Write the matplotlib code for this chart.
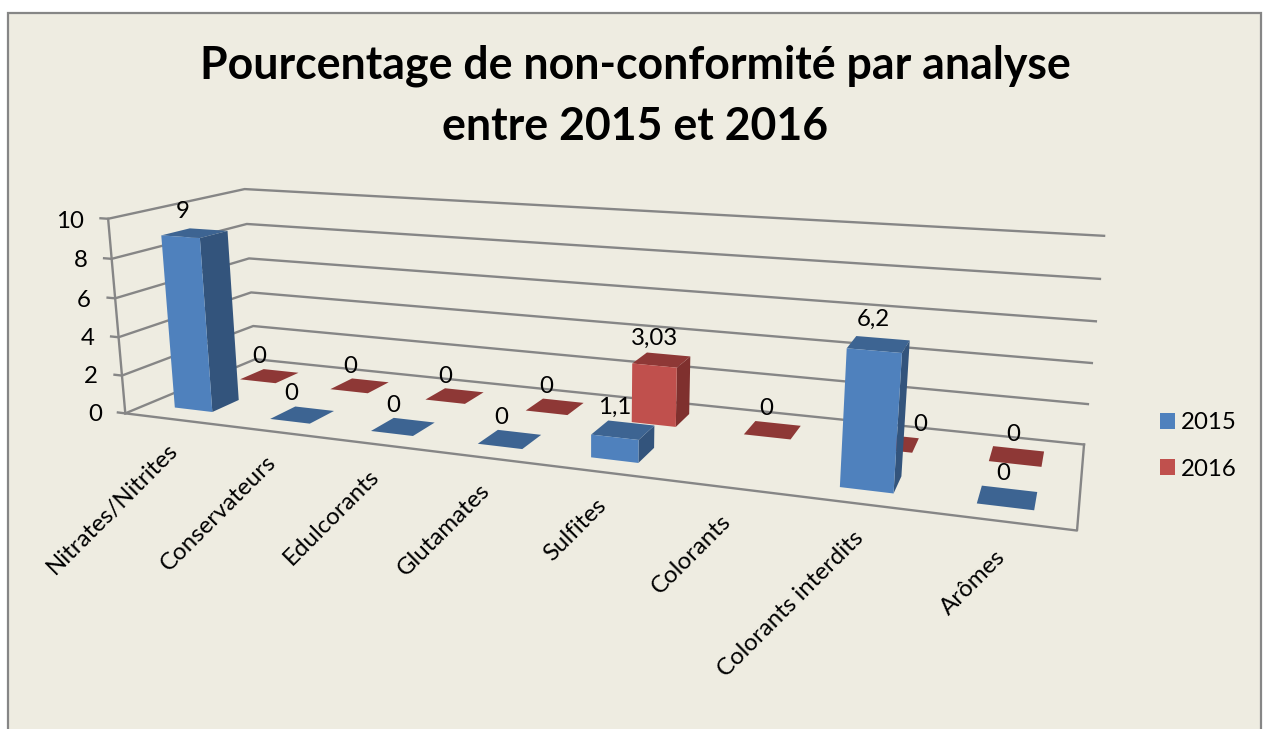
import numpy as np
import matplotlib
matplotlib.use("Agg")
import matplotlib.pyplot as plt
from matplotlib.axes import Axes
from matplotlib.patches import Rectangle, Patch

categories = ["Nitrates/Nitrites", "Conservateurs", "Edulcorants", "Glutamates",
              "Sulfites", "Colorants", "Colorants interdits", "Arômes"]
values_2015 = [9, 0, 0, 0, 1.1, None, 6.2, 0]
values_2016 = [0, 0, 0, 0, 3.03, 0, 0, 0]
labels_2015 = ["9", "0", "0", "0", "1,1", None, "6,2", "0"]
labels_2016 = ["0", "0", "0", "0", "3,03", "0", "0", "0"]
value_ticks = [0, 2, 4, 6, 8, 10]
title = "Pourcentage de non-conformité par analyse\nentre 2015 et 2016"

W, H = 1267, 729
FS = 17.3
plt.rcParams['font.family'] = ['Lato', 'DejaVu Sans']
GRID = "#868686"
BG = "#EEECE1"
BLUE = dict(front="#4F81BD", side="#33547C", top="#3D6492")
RED = dict(front="#C0504D", side="#7F302E", top="#8E3836")

fig = plt.figure(figsize=(W / 100, H / 100), dpi=100, facecolor="white")
fig.add_artist(Rectangle((8 / W, -0.05), (1261 - 8) / W, (H - 13) / H + 0.05,
                         transform=fig.transFigure, facecolor=BG, edgecolor=GRID,
                         linewidth=1.6, zorder=-5))

ax = fig.add_axes([0, 0, 1, 1], projection="3d", computed_zorder=False, proj_type="ortho")
ax.apply_aspect = lambda position=None: None
ax.patch.set_visible(False)
ax.set_axis_off()
ax.set_xlim(0, 8); ax.set_ylim(0, 2); ax.set_zlim(0, 10)

# Camera calibration: chart box corners -> picture position, solved as a projective camera
calib = [((0, 0, 0), (126, 413)), ((8, 0, 0), (1077, 531)), ((0, 2, 0), (255, 360)),
         ((8, 2, 0), (1084, 444)), ((0, 0, 10), (108, 219)), ((0, 2, 10), (245, 189)),
         ((8, 2, 10), (1104, 236)), ((8, 2, 4), (1092, 363)), ((0, 2, 4), (251, 292)),
         ((0, 0, 4), (118, 337))]
A, b = [], []
for (X, Y, Z), (u, v) in calib:
    A.append([X, Y, Z, 1, 0, 0, 0, 0, -u * X, -u * Y, -u * Z]); b.append(u)
    A.append([0, 0, 0, 0, X, Y, Z, 1, -v * X, -v * Y, -v * Z]); b.append(v)
p = np.linalg.lstsq(np.array(A, float), np.array(b, float), rcond=None)[0]
rows = np.array([p[:4], p[4:8], [0, 1, 0, 0], [p[8], p[9], p[10], 1.0]])
vx0, vx1 = ax.viewLim.intervalx
vy0, vy1 = ax.viewLim.intervaly
sx = (vx1 - vx0) / W
sy = (vy1 - vy0) / H
to_view = np.array([[sx, 0, 0, vx0], [0, -sy, 0, vy1], [0, 0, 1, 0], [0, 0, 0, 1]], float)
M = to_view @ rows
ax.get_proj = lambda: M


def label(x, y, z, s, **kw):
    """Text anchored at a point of the 3D chart, drawn flat so that rotation holds."""
    q = M @ np.array([x, y, z, 1.0])
    return Axes.text(ax, q[0] / q[3], q[1] / q[3], s, color="black", fontsize=FS, **kw)


# Walls and floor
LW = 1.7
for z in value_ticks:
    ax.plot([-0.08, 0, 0, 8], [0, 0, 2, 2], [z, z, z, z], color=GRID, lw=LW, zorder=1)
ax.plot([0, 0], [0, 0], [0, 10], color=GRID, lw=LW, zorder=1)
ax.plot([0, 8, 8], [0, 0, 2], [0, 0, 0], color=GRID, lw=LW, zorder=1)
for z in value_ticks:
    label(-0.26, 0, z - 0.2, str(z), ha="right", va="center")

# Bars
BAR = 0.4


def bars(values, y_center, style, base_z):
    for i, v in enumerate(values):
        if v is None:
            continue
        ax.bar3d(i + 0.5 - BAR / 2, y_center - BAR / 2, 0, BAR, BAR, v, shade=False,
                 color=["none", style["top"], style["front"], "none", "none", style["side"]],
                 edgecolor="none", zorder=base_z + i * 0.01)


def bar_labels(texts, values, y_center, nudge=None):
    nudge = nudge or {}
    for i, (t, v) in enumerate(zip(texts, values)):
        if t is not None:
            label(i + 0.5 - 0.11 + 0.01 * i + nudge.get(i, 0), y_center, v + 1.05, t,
                  ha="center", va="center", zorder=20)


bars(values_2016, 1.5, RED, 5)
bars(values_2015, 0.5, BLUE, 10)
bar_labels(labels_2016, values_2016, 1.5, nudge={6: 0.28})
bar_labels(labels_2015, values_2015, 0.5)

for i, name in enumerate(categories):
    label(i + 0.5 - 0.07 + 0.005 * i, 0, -1.1, name, ha="right", va="top", rotation=45,
          rotation_mode="anchor")

fig.text(635 / W, 1 - 96 / H, title, ha="center", va="center", fontsize=32.1,
         fontweight="bold", color="black", linespacing=1.56)

handles = [Patch(facecolor=BLUE["front"], linewidth=0), Patch(facecolor=RED["front"], linewidth=0)]
fig.legend(handles, ["2015", "2016"], loc="center left",
           bbox_to_anchor=(1160 / W, 1 - 446 / H), frameon=False, fontsize=FS,
           handlelength=0.625, handleheight=0.625, handletextpad=0.25, labelspacing=1.05,
           borderpad=0, borderaxespad=0)

fig.savefig("out.png", dpi=100, facecolor="white")
